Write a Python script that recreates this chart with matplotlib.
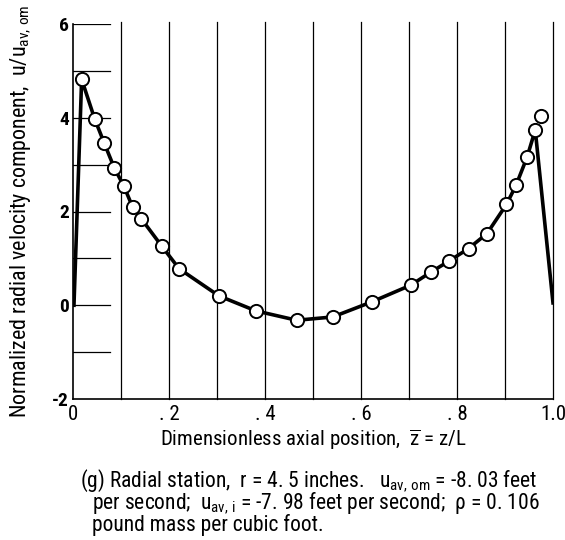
import matplotlib
matplotlib.use("Agg")
import matplotlib.pyplot as plt

FAM = "Roboto Condensed"
plt.rcParams['font.family'] = [FAM, 'DejaVu Sans']
plt.rcParams['mathtext.fontset'] = 'custom'
plt.rcParams['mathtext.rm'] = FAM
plt.rcParams['mathtext.it'] = FAM
plt.rcParams['mathtext.bf'] = FAM + ':bold'

# measured points
z_pts = [0.018, 0.045, 0.065, 0.086, 0.106, 0.124, 0.142, 0.185, 0.221, 0.304,
         0.381, 0.466, 0.541, 0.622, 0.704, 0.746, 0.783, 0.824, 0.8625, 0.903,
         0.923, 0.946, 0.963, 0.975]
u_pts = [4.82, 3.98, 3.46, 2.93, 2.54, 2.10, 1.85, 1.26, 0.78, 0.20,
         -0.12, -0.32, -0.25, 0.07, 0.43, 0.71, 0.94, 1.21, 1.53, 2.15,
         2.56, 3.16, 3.74, 4.03]
# faired curve end points (wall values)
z_start, u_start = 0.002, 0.0
z_end, u_end = 1.0, 0.05

xticks = [0, 0.2, 0.4, 0.6, 0.8, 1.0]
xticklabels = ["0", ". 2", ". 4", ". 6", ". 8", "1.0"]
yticks = [-2, 0, 2, 4, 6]

fig = plt.figure(figsize=(5.65, 5.4), dpi=100)
ax = fig.add_axes([73/565, 1-399/540, 480/565, 375/540])
ax.set_xlim(0, 1.0)
ax.set_ylim(-2, 6)

# vertical grid lines
for i in range(1, 11):
    ax.plot([i/10, i/10], [-2, 6.05], color='black', lw=0.9, clip_on=False, zorder=1)
# short horizontal grid stubs
for yv in [-1, 0, 1, 2, 3, 4, 5, 6]:
    ax.plot([0, 0.078], [yv, yv], color='black', lw=0.9, zorder=1)

line_x = [z_start] + z_pts[:-1] + [z_end]
line_y = [u_start] + u_pts[:-1] + [u_end]
ax.plot(line_x, line_y, color='black', lw=2.6, zorder=2, solid_joinstyle='round')
ax.plot(z_pts, u_pts, 'o', ms=9.5, mfc='white', mec='black', mew=1.4, zorder=3)

for s in ['top', 'right']:
    ax.spines[s].set_visible(False)
ax.spines['left'].set_linewidth(1.2)
ax.spines['bottom'].set_linewidth(1.2)
ax.set_xticks(xticks)
ax.set_xticklabels(xticklabels, fontsize=15)
ax.set_yticks(yticks)
ax.set_yticklabels([str(v) for v in yticks], fontsize=14, fontweight='bold')
ax.tick_params(axis='x', length=0, pad=4)
ax.tick_params(axis='y', length=0, pad=3)

ax.set_xlabel(r"Dimensionless axial position,  $\overline{\mathrm{z}}$ = z/L", fontsize=15, labelpad=3)
ax.set_ylabel(r"Normalized radial velocity component,  u/u$_{\mathrm{av,\,om}}$", fontsize=15.8, labelpad=14)

cap = 15.5
fig.text(80/565, 1-487/540, r"(g) Radial station,  r = 4. 5 inches.   u$_{\mathrm{av,\,om}}$ = -8. 03 feet",
         fontsize=cap, va='baseline', ha='left')
fig.text(92/565, 1-509/540, r"per second;  u$_{\mathrm{av,\,i}}$ = -7. 98 feet per second;  ρ = 0. 106",
         fontsize=cap, va='baseline', ha='left')
fig.text(92/565, 1-531/540, "pound mass per cubic foot.", fontsize=cap, va='baseline', ha='left')

fig.savefig("out.png", dpi=100)
